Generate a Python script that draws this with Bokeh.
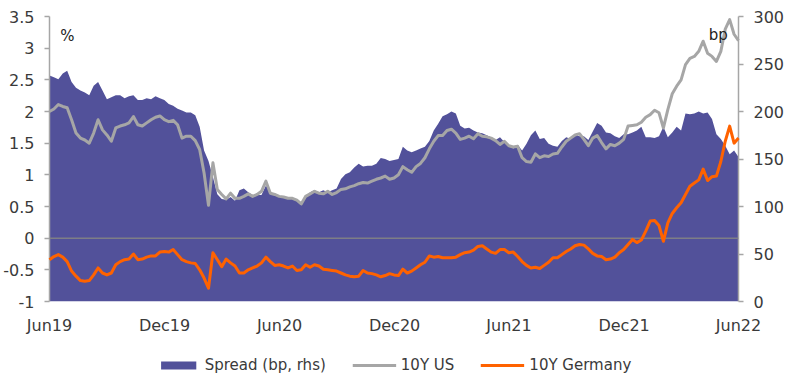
import pandas as pd
from bokeh.plotting import figure
from bokeh.layouts import column
from bokeh.models import (Range1d, LinearAxis, FixedTicker, DatetimeTickFormatter,
                          CustomJSTickFormatter, Span, Label, Legend, LegendItem,
                          ColumnDataSource)
from bokeh.embed import file_html
from bokeh.resources import INLINE

# ---------------- data (weekly readings, Jun 2019 - Jun 2022) ----------------
start_date = "2019-06-01"
end_date = "2022-06-01"

us_10y = [
    2.00, 2.04, 2.11, 2.08, 2.06, 1.87, 1.66, 1.58, 1.55, 1.50,
    1.66, 1.87, 1.71, 1.63, 1.53, 1.74, 1.77, 1.79, 1.82, 1.92,
    1.79, 1.77, 1.82, 1.87, 1.91, 1.93, 1.87, 1.84, 1.86, 1.79,
    1.58, 1.61, 1.61, 1.54, 1.40, 1.03, 0.52, 1.19, 0.77, 0.69,
    0.62, 0.71, 0.63, 0.63, 0.66, 0.70, 0.66, 0.69, 0.74, 0.90,
    0.71, 0.69, 0.66, 0.65, 0.63, 0.63, 0.60, 0.54, 0.66, 0.70,
    0.74, 0.71, 0.70, 0.74, 0.69, 0.72, 0.77, 0.78, 0.81, 0.83,
    0.86, 0.88, 0.87, 0.90, 0.93, 0.95, 0.98, 0.93, 0.95, 1.00,
    1.13, 1.08, 1.04, 1.13, 1.18, 1.27, 1.41, 1.53, 1.62, 1.62,
    1.70, 1.72, 1.66, 1.56, 1.58, 1.61, 1.57, 1.65, 1.61, 1.60,
    1.58, 1.54, 1.48, 1.53, 1.46, 1.44, 1.45, 1.27, 1.21, 1.20,
    1.33, 1.27, 1.30, 1.29, 1.33, 1.34, 1.44, 1.53, 1.58, 1.63,
    1.65, 1.56, 1.46, 1.58, 1.62, 1.51, 1.41, 1.48, 1.46, 1.50,
    1.56, 1.77, 1.78, 1.79, 1.83, 1.91, 1.95, 2.02, 1.98, 1.74,
    2.03, 2.28, 2.40, 2.50, 2.74, 2.84, 2.87, 2.95, 3.11, 2.92,
    2.87, 2.79, 2.95, 3.30, 3.45, 3.22, 3.12,
]

de_10y = [
    -0.34, -0.29, -0.26, -0.30, -0.37, -0.52, -0.60, -0.67, -0.68, -0.67,
    -0.58, -0.47, -0.55, -0.58, -0.55, -0.42, -0.37, -0.34, -0.33, -0.25,
    -0.34, -0.33, -0.30, -0.28, -0.28, -0.22, -0.21, -0.22, -0.18, -0.26,
    -0.34, -0.37, -0.39, -0.40, -0.50, -0.63, -0.79, -0.23, -0.34, -0.45,
    -0.33, -0.39, -0.44, -0.55, -0.55, -0.50, -0.47, -0.44, -0.39, -0.30,
    -0.37, -0.43, -0.42, -0.44, -0.47, -0.44, -0.51, -0.50, -0.42, -0.46,
    -0.42, -0.44, -0.49, -0.50, -0.51, -0.52, -0.55, -0.58, -0.60, -0.61,
    -0.60, -0.51, -0.55, -0.56, -0.58, -0.61, -0.59, -0.56, -0.58, -0.59,
    -0.49, -0.55, -0.52, -0.47, -0.42, -0.38, -0.28, -0.30, -0.29, -0.31,
    -0.31, -0.31, -0.30, -0.26, -0.23, -0.22, -0.19, -0.13, -0.12, -0.17,
    -0.22, -0.24, -0.18, -0.18, -0.23, -0.22, -0.29, -0.37, -0.43, -0.47,
    -0.46, -0.48, -0.43, -0.38, -0.31, -0.31, -0.26, -0.21, -0.17, -0.12,
    -0.10, -0.11, -0.17, -0.24, -0.28, -0.29, -0.34, -0.33, -0.30, -0.23,
    -0.18, -0.10, -0.02, -0.07, -0.03, 0.11, 0.27, 0.28, 0.20, -0.05,
    0.24, 0.39, 0.48, 0.56, 0.69, 0.82, 0.87, 0.92, 1.09, 0.91,
    0.97, 0.98, 1.21, 1.53, 1.77, 1.50, 1.58,
]

spread_bp = [
    238, 236, 234, 240, 243, 231, 225, 222, 220, 217,
    227, 231, 222, 213, 215, 217, 217, 214, 216, 217,
    212, 212, 214, 213, 216, 214, 212, 208, 206, 203,
    201, 199, 199, 196, 184, 159, 148, 131, 113, 108,
    107, 110, 106, 117, 119, 115, 112, 112, 112, 122,
    115, 112, 111, 110, 108, 108, 106, 104, 110, 115,
    117, 115, 117, 115, 117, 119, 129, 134, 136, 141,
    145, 142, 143, 143, 145, 151, 150, 148, 149, 150,
    163, 159, 157, 159, 161, 163, 169, 180, 187, 195,
    197, 200, 198, 185, 182, 183, 180, 178, 177, 175,
    173, 170, 173, 168, 165, 161, 165, 159, 166, 175,
    180, 171, 172, 166, 164, 163, 169, 173, 171, 176,
    174, 174, 170, 179, 188, 185, 178, 177, 174, 172,
    176, 176, 178, 180, 184, 173, 173, 172, 174, 184,
    173, 178, 184, 180, 198, 197, 198, 200, 198, 199,
    192, 176, 171, 164, 155, 159, 152,
]

tick_dates = ["2019-06-01", "2019-12-01", "2020-06-01", "2020-12-01",
              "2021-06-01", "2021-12-01", "2022-06-01"]
left_ticks = [-1, -0.5, 0, 0.5, 1, 1.5, 2, 2.5, 3, 3.5]
right_ticks = [0, 50, 100, 150, 200, 250, 300]

labels = ["Spread (bp, rhs)", "10Y US", "10Y Germany"]

# ---------------- styles ----------------
AREA = "#52519A"
GREY = "#A6A6A6"
ORANGE = "#FF6200"
TEXT = "#3A3A3A"
FONT = "DejaVu Sans"


def ms(d):
    return pd.Timestamp(d).value / 1e6


dates = pd.date_range(start_date, end_date, periods=len(us_10y))
src = ColumnDataSource(dict(date=dates, us=us_10y, de=de_10y, spread=spread_bp))

p = figure(frame_width=689, frame_height=285, x_axis_type="datetime",
           x_range=Range1d(ms(start_date), ms(end_date)),
           y_range=Range1d(-1, 3.5),
           output_backend="svg", toolbar_location=None,
           min_border_left=49, min_border_right=62,
           min_border_top=16, min_border_bottom=49)
p.extra_y_ranges = {"bp": Range1d(0, 300)}
p.outline_line_color = None
p.xgrid.grid_line_color = None
p.ygrid.grid_line_color = None
p.background_fill_color = "white"
p.border_fill_color = "white"

# x axis
xa = p.xaxis[0]
xa.ticker = FixedTicker(ticks=[ms(d) for d in tick_dates])
fmt = "%b%y"
xa.formatter = DatetimeTickFormatter(microseconds=fmt, milliseconds=fmt, seconds=fmt,
                                     minsec=fmt, minutes=fmt, hourmin=fmt, hours=fmt,
                                     days=fmt, months=fmt, years=fmt)
xa.axis_line_color = None
xa.major_tick_line_color = None
xa.minor_tick_line_color = None
xa.major_tick_out = 0
xa.major_tick_in = 0
xa.major_label_standoff = 14
xa.major_label_text_font = FONT
xa.major_label_text_font_size = "16px"
xa.major_label_text_color = TEXT

# left axis
ya = p.yaxis[0]
ya.ticker = FixedTicker(ticks=left_ticks)
ya.formatter = CustomJSTickFormatter(code="return tick.toString()")

# right axis
yr = LinearAxis(y_range_name="bp", ticker=FixedTicker(ticks=right_ticks))
p.add_layout(yr, "right")

for ax in (ya, yr):
    ax.axis_line_color = GREY
    ax.axis_line_width = 1.5
    ax.major_tick_line_color = GREY
    ax.major_tick_line_width = 1.5
    ax.major_tick_out = 5
    ax.major_tick_in = 0
    ax.minor_tick_line_color = None
    ax.major_label_standoff = 10
    ax.major_label_text_font = FONT
    ax.major_label_text_font_size = "16px"
    ax.major_label_text_color = TEXT

# glyphs
area = p.varea(x="date", y1=0, y2="spread", source=src, y_range_name="bp",
               fill_color=AREA)
p.add_layout(Span(location=0, dimension="width", line_color="#7E7E86", line_width=1.5))
us_r = p.line("date", "us", source=src, line_color=GREY, line_width=3,
              line_join="round", level="overlay")
de_r = p.line("date", "de", source=src, line_color=ORANGE, line_width=3,
              line_join="round", level="overlay")

# unit labels
p.add_layout(Label(x=ms("2019-06-18"), y=3.2, text="%", text_font=FONT,
                   text_font_size="15px", text_color="#222222",
                   text_baseline="middle", text_align="left"))
p.add_layout(Label(x=ms("2022-05-15"), y=281, y_range_name="bp", text="bp",
                   text_font=FONT, text_font_size="15px", text_color="#222222",
                   text_baseline="middle", text_align="right", level="overlay"))

# ---------------- legend strip (separate small figure below the chart) ----------------
# The same series are attached here but lie far outside this strip's y range,
# so only their legend swatches are visible.
lg = figure(width=800, height=30, x_range=Range1d(ms(start_date), ms(end_date)),
            y_range=Range1d(1000, 1001),
            output_backend="svg", toolbar_location=None, min_border=0)
lg.axis.visible = False
lg.xgrid.grid_line_color = None
lg.ygrid.grid_line_color = None
lg.outline_line_color = None
k_area = lg.varea(x="date", y1=0, y2="spread", source=src, fill_color=AREA)
k_us = lg.line("date", "us", source=src, line_color=GREY, line_width=3)
k_de = lg.line("date", "de", source=src, line_color=ORANGE, line_width=3)

legend = Legend(items=[LegendItem(label=labels[0], renderers=[k_area]),
                       LegendItem(label=labels[1], renderers=[k_us]),
                       LegendItem(label=labels[2], renderers=[k_de])],
                orientation="horizontal", location="center",
                glyph_width=44, glyph_height=10, label_height=10,
                label_standoff=5, spacing=26, padding=0, margin=0,
                border_line_color=None, background_fill_alpha=0,
                label_text_font=FONT, label_text_font_size="15px",
                label_text_color=TEXT)
lg.add_layout(legend)

layout = column(p, lg, spacing=0)
open("out.html", "w").write(file_html(layout, INLINE))
